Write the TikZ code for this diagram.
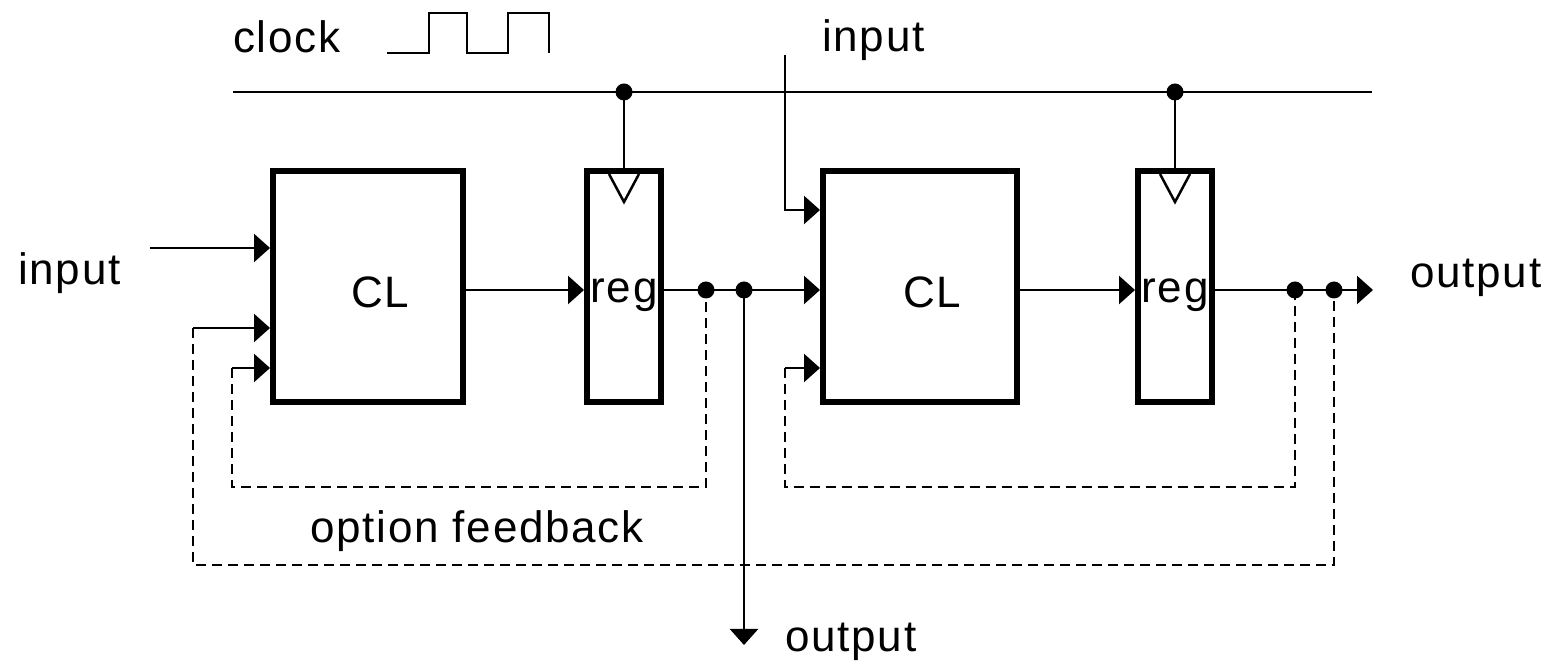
\documentclass[tikz,border=0pt]{standalone}
\usepackage{fontspec}
\setmainfont{Liberation Sans}[LetterSpace=4]
\usetikzlibrary{arrows.meta}
\begin{document}
\begin{tikzpicture}[x=1pt,y=1pt,line join=miter,font=\fontsize{44}{48}\selectfont,
  >={Triangle[length=16pt,width=28pt]},
  wire/.style={line width=2.5pt},
  fback/.style={line width=2.5pt,dash pattern=on 10pt off 6pt},
  block/.style={draw,line width=6pt,minimum height=231pt,inner sep=0pt},
  dot/.style={circle,fill,inner sep=0pt,minimum size=17pt}]
\def \ysig{378};
\def \yclk{576};
\def \ymid{381.5};
\useasboundingbox (0,0) rectangle (1548,668);
% blocks
\node[block,minimum width=190pt] (cl1) at (368,\ymid) {};
\node[block,minimum width=74pt] (reg1) at (624,\ymid) {};
\node[block,minimum width=194pt] (cl2) at (920,\ymid) {};
\node[block,minimum width=74pt] (reg2) at (1175,\ymid) {};
\foreach \b in {cl1,cl2}{\node[anchor=base] (\b t) at ([xshift=12pt,yshift=-21.5pt]\b.center) {CL};}
\foreach \b in {reg1,reg2}{\node[anchor=base] (\b t) at ([yshift=-16.5pt]\b.center) {reg};}
% clock
\node[anchor=base west,inner sep=0pt] (clk) at (233,615) {clock};
\draw[wire] (387,615) -- (429,615) -- (429,655) -- (467,655) -- (467,615) -- (508,615) -- (508,655) -- (549,655) -- (549,615);
\coordinate (clkL) at (233,\yclk);
\coordinate (clkR) at (1372,\yclk);
\draw[wire] (clkL) -- (clkR);
\foreach \b in {reg1,reg2}{
  \coordinate (\b c) at (\b.north |- clkL);
  \draw[wire] (\b c) -- (\b.north);
  \draw[wire] (\b.north) ++(-15,-6) -- ++(15,-28) -- ++(15,28);
  \node[dot] at (\b c) {};}
% junctions
\coordinate (j1) at (706,\ysig);
\coordinate (j2) at (744,\ysig);
\coordinate (j3) at (1295,\ysig);
\coordinate (j4) at (1334,\ysig);
\coordinate (outR) at (1373,\ysig);
\coordinate (outB) at (744,23);
\foreach \j in {j1,j2,j3,j4}{\node[dot] at (\j) {};}
% box inputs
\coordinate (cl1a) at ([yshift=38.5pt]cl1.west);
\coordinate (cl1b) at ([yshift=-41.5pt]cl1.west);
\coordinate (cl1c) at ([yshift=-81.5pt]cl1.west);
\coordinate (cl2a) at ([yshift=76.5pt]cl2.west);
\coordinate (cl2c) at ([yshift=-81.5pt]cl2.west);
\coordinate (in1) at ([xshift=-120pt]cl1a);
\coordinate (in2) at (785,613);
\coordinate (f1) at ([xshift=-38pt]cl1c);
\coordinate (f2) at ([xshift=-77pt]cl1b);
\coordinate (f3) at ([xshift=-35pt]cl2c);
% signal path
\draw[wire,->] (in1) -- (cl1a);
\draw[wire,->] (cl1.east |- j1) -- (reg1.west |- j1);
\draw[wire] (reg1.east |- j1) -- (j2);
\draw[wire,->] (j2) -- (cl2.west |- j2);
\draw[wire,->] (in2) |- (cl2a);
\draw[wire,->] (cl2.east |- j3) -- (reg2.west |- j3);
\draw[wire] (reg2.east |- j3) -- (j4);
\draw[wire,->] (j4) -- (outR);
\draw[wire,->] (j2) -- (outB);
% feedback
\foreach \f/\c in {f1/cl1c,f2/cl1b,f3/cl2c}{\draw[wire,->] (\f) -- (\c);}
\draw[fback] (f1) -- ++(0,-119) -| (j1);
\draw[fback] (f2) -- ++(0,-237) -| (j4);
\draw[fback] (f3) -- ++(0,-119) -| (j3);
% labels
\node[anchor=base west,inner sep=0pt] (inL) at (18,383) {input};
\node[anchor=base west,inner sep=0pt] (inT) at (822,616) {input};
\node[anchor=base west,inner sep=0pt] (outRt) at (1410,380) {output};
\node[anchor=base west,inner sep=0pt] (outBt) at (785,16) {output};
\node[anchor=base west,inner sep=0pt] (opt) at (310,125) {option feedback};
\end{tikzpicture}
\end{document}
